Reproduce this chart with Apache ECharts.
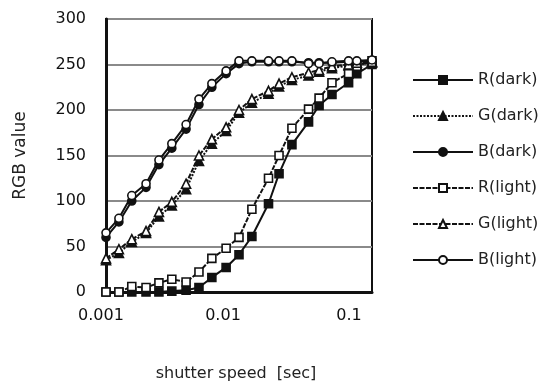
<!DOCTYPE html>
<html>
<head>
<meta charset="utf-8">
<script src="https://cdn.jsdelivr.net/npm/echarts@6/dist/echarts.min.js"></script>
<style>
  html, body { margin: 0; padding: 0; background: #fff; }
  #chart { width: 551px; height: 383px; }
</style>
</head>
<body>
<div id="chart"></div>
<script>
// shutter speeds, 1/3 stop steps
const speeds = [1/1000, 1/800, 1/640, 1/500, 1/400, 1/320, 1/250, 1/200, 1/160, 1/125,
  1/100, 1/80, 1/60, 1/50, 1/40, 1/30, 1/25, 1/20, 1/15, 1/13, 1/10]

const rDark = [0, 0, 0, 0, 0, 1, 2, 5, 16, 27, 41, 61, 97, 130, 162, 187, 205, 217, 230, 240, 250]
const gDark = [35, 43, 55, 65, 83, 95, 113, 144, 163, 177, 197, 208, 218, 226, 233, 238, 242, 246, 249, 250, 252]
const bDark = [60, 77, 100, 115, 140, 158, 179, 206, 225, 240, 251, 253, 253, 253, 253, 252, 252, 252, 253, 253, 254]
const rLight = [0, 0, 6, 5, 10, 14, 11, 22, 37, 48, 60, 91, 125, 150, 180, 201, 213, 230, 240, 248, 254]
const gLight = [37, 47, 58, 67, 88, 99, 119, 150, 168, 181, 200, 212, 221, 229, 236, 241, 244, 248, 250, 252, 253]
const bLight = [65, 81, 106, 119, 145, 163, 184, 212, 229, 243, 254, 254, 254, 254, 254, 251, 251, 253, 254, 254, 255]

const yTicks = [0, 50, 100, 150, 200, 250, 300]
const xTickLabels = ['0.001', '0.01', '0.1']

const FONT = 'DejaVu Sans'

const chart = echarts.init(document.getElementById('chart'))

function makeSeries (name, values, symbol, filled, dash) {
  return {
    name: name,
    type: 'line',
    data: speeds.map((s, i) => [s, values[i]]),
    symbol: symbol,
    symbolSize: symbol === 'triangle' ? 9 : 8,
    showSymbol: true,
    itemStyle: {
      color: filled ? '#111' : '#fff',
      borderColor: '#111',
      borderWidth: 1.6
    },
    lineStyle: {
      color: '#111',
      width: 2,
      type: dash || 'solid'
    },
    emphasis: { disabled: true },
    z: filled ? 2 : 3
  }
}

const option = {
  animation: false,
  textStyle: { fontFamily: FONT, color: '#222' },
  grid: {
    left: 106,
    right: 179,
    top: 19,
    bottom: 91,
    outerBoundsMode: 'none',
    show: true,
    borderColor: '#111',
    borderWidth: 2
  },
  legend: {
    orient: 'vertical',
    left: 407,
    top: 67,
    itemWidth: 60,
    itemHeight: 10,
    itemGap: 20,
    textStyle: { fontSize: 16, color: '#222', fontFamily: FONT },
    data: ['R(dark)', 'G(dark)', 'B(dark)', 'R(light)', 'G(light)', 'B(light)']
  },
  xAxis: {
    type: 'log',
    logBase: 10,
    min: 0.001,
    max: 0.1,
    name: 'shutter speed  [sec]',
    nameLocation: 'middle',
    nameGap: 74,
    nameTextStyle: { fontSize: 16, color: '#222', padding: [0, 6, 0, 0] },
    axisLine: { show: true, onZero: false, lineStyle: { color: '#111', width: 3 } },
    axisTick: { show: false },
    axisLabel: {
      margin: 16,
      fontSize: 16,
      color: '#111',
      formatter: v => {
        const i = xTickLabels.indexOf(String(v))
        return i < 0 ? String(v) : '{t' + i + '|' + xTickLabels[i] + '}'
      },
      rich: {
        t0: { fontSize: 16, fontFamily: FONT, color: '#111', padding: [0, 10, 0, 0] },
        t1: { fontSize: 16, fontFamily: FONT, color: '#111', padding: [0, 32, 0, 0] },
        t2: { fontSize: 16, fontFamily: FONT, color: '#111', padding: [0, 46, 0, 0] }
      }
    },
    splitLine: { show: false },
    minorSplitLine: { show: false }
  },
  yAxis: {
    type: 'value',
    min: yTicks[0],
    max: yTicks[yTicks.length - 1],
    interval: 50,
    name: 'RGB value',
    nameLocation: 'middle',
    nameRotate: 90,
    nameGap: 77,
    nameTextStyle: { fontSize: 17, color: '#222' },
    axisLine: { show: true, lineStyle: { color: '#111', width: 3 } },
    axisTick: { show: false },
    axisLabel: { margin: 20, fontSize: 16, color: '#111' },
    splitLine: { show: true, lineStyle: { color: '#8a8a8a', width: 2 } }
  },
  series: [
    makeSeries('R(dark)', rDark, 'rect', true, null),
    makeSeries('G(dark)', gDark, 'triangle', true, [2, 1.5]),
    makeSeries('B(dark)', bDark, 'circle', true, null),
    makeSeries('R(light)', rLight, 'rect', false, [5, 1.5]),
    makeSeries('G(light)', gLight, 'triangle', false, [5, 1.5]),
    makeSeries('B(light)', bLight, 'circle', false, null)
  ]
}

chart.setOption(option)
</script>
</body>
</html>
